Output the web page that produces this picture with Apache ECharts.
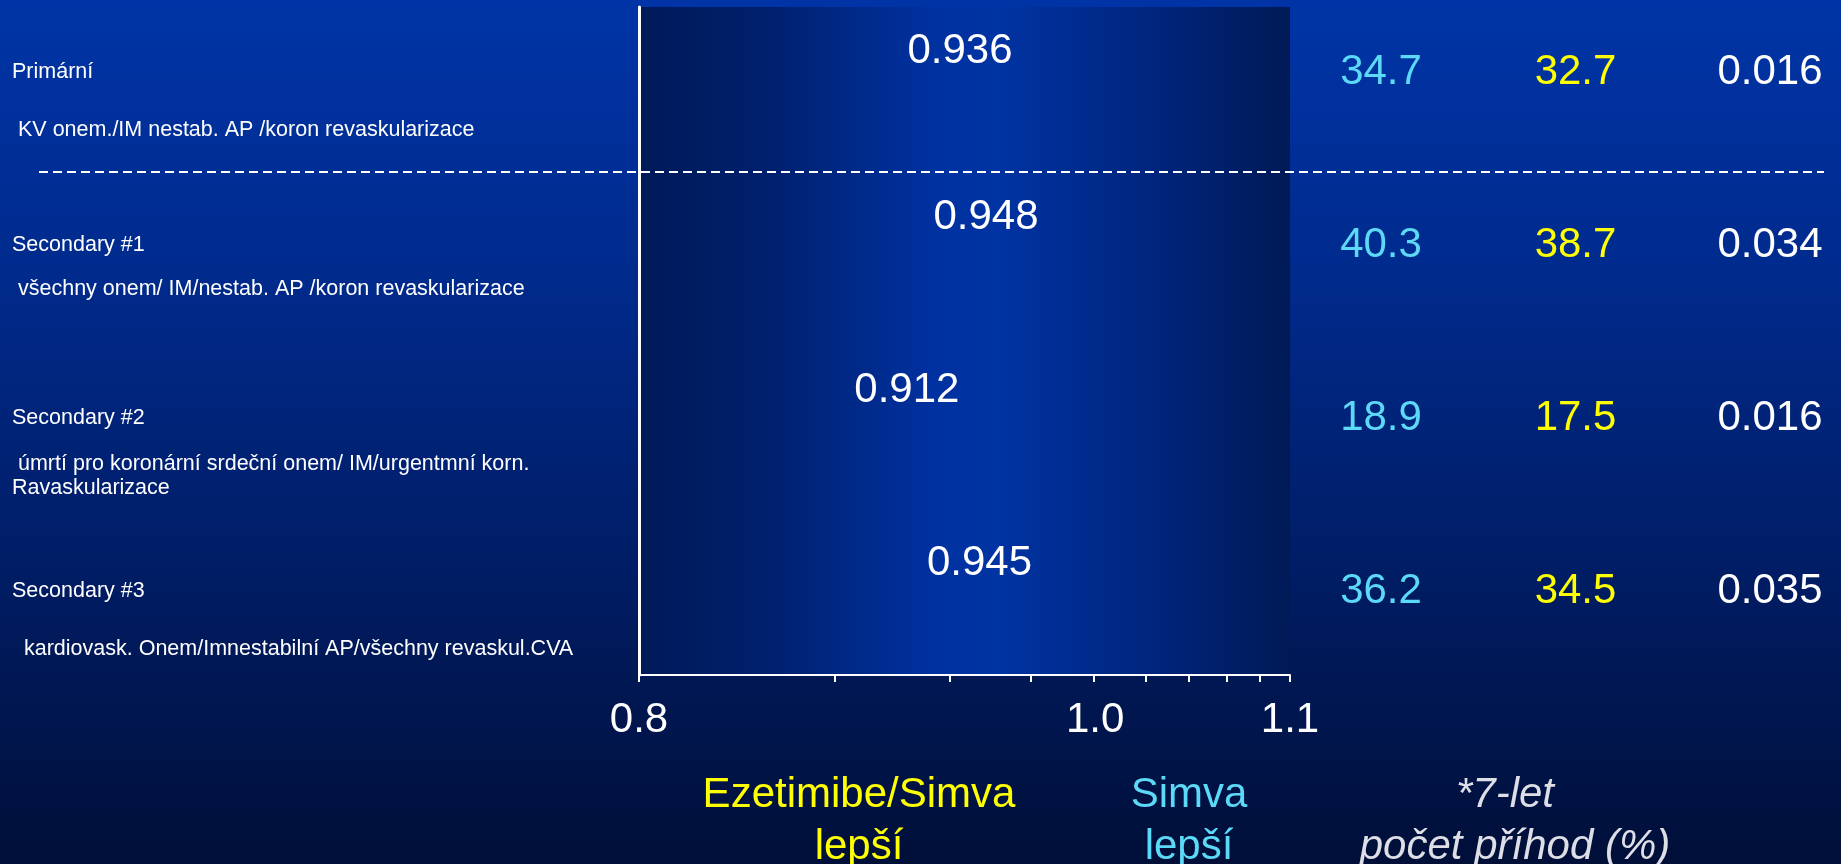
<!DOCTYPE html>
<html>
<head>
<meta charset="utf-8">
<script src="https://cdn.jsdelivr.net/npm/echarts@6/dist/echarts.min.js"></script>
<style>
  html, body { margin: 0; padding: 0; background: #001a60; }
  #chart { width: 1841px; height: 864px; }
</style>
</head>
<body>
<div id="chart"></div>
<script>
// Endpoints (rows, top to bottom)
const endpoints = ['Primární', 'Secondary #1', 'Secondary #2', 'Secondary #3'];
const endpointNotes = [
  ' KV onem./IM nestab. AP /koron revaskularizace',
  ' všechny onem/ IM/nestab. AP /koron revaskularizace',
  ' úmrtí pro koronární srdeční onem/ IM/urgentmní korn.\nRavaskularizace',
  '  kardiovask. Onem/Imnestabilní AP/všechny revaskul.CVA'
];
// Hazard ratio per endpoint
const hazardRatios = [0.936, 0.948, 0.912, 0.945];
// 7-year event rates (%) and p-values
const simvaRates = [34.7, 40.3, 18.9, 36.2];
const ezeSimvaRates = [32.7, 38.7, 17.5, 34.5];
const pValues = [0.016, 0.034, 0.016, 0.035];
const tableColumns = ['Simva', 'Ezetimibe/Simva', 'p'];
// Axis labels and decade tick marks
const hrAxisLabels = [0.8, 1.0, 1.1];
const decadeTicks = [1, 2, 3, 4, 5, 6, 7, 8, 9, 10];

const FONT = '"Liberation Sans", Arial, Helvetica, sans-serif';
const CYAN = '#5bd9f7';
const YELLOW = '#ffff00';
const ROW_MIN = -0.376, ROW_MAX = 3.486;
// gap between each hazard-ratio label and its row
const hrLabelGap = [0, 7, 7, 7];
// vertical offset of each caption note under its row title
const noteOffsets = [58, 44, 58, 58];

const chart = echarts.init(document.getElementById('chart'));

const panelGradient = {
  type: 'linear', x: 0, y: 0, x2: 1, y2: 0,
  colorStops: [
    { offset: 0, color: '#001a58' },
    { offset: 0.2, color: '#00206e' },
    { offset: 0.45, color: '#0031a0' },
    { offset: 0.55, color: '#0033a3' },
    { offset: 0.82, color: '#002378' },
    { offset: 1, color: '#001a56' }
  ]
};

const rowIdx = endpoints.map((_, i) => i);

function tableSeries(values, col, color, digits) {
  return {
    type: 'scatter', xAxisIndex: 2, yAxisIndex: 1, symbolSize: 0, clip: false,
    itemStyle: { opacity: 1 },
    data: values.map((v, i) => [tableColumns[col], i, v]),
    label: {
      show: true, position: 'inside', color: color, fontSize: 42, fontFamily: FONT,
      formatter: p => p.value[2].toFixed(digits)
    }
  };
}

chart.setOption({
  animation: false,
  backgroundColor: {
    type: 'linear', x: 0, y: 0, x2: 0, y2: 1,
    colorStops: [
      { offset: 0, color: '#0034a6' },
      { offset: 0.3, color: '#002b8e' },
      { offset: 0.65, color: '#001d66' },
      { offset: 1, color: '#000f38' }
    ]
  },
  textStyle: { fontFamily: FONT },
  grid: [
    { left: 639, right: 551, top: 7, bottom: 189, show: true, borderWidth: 0, backgroundColor: panelGradient },
    { left: 1381, right: 71, top: 7, bottom: 189 }
  ],
  xAxis: [
    {
      type: 'log', gridIndex: 0, min: 0.8, max: 1.1, position: 'bottom',
      axisLine: { onZero: false, lineStyle: { color: '#ffffff', width: 2 } },
      axisTick: { show: false },
      splitLine: { show: false },
      axisLabel: {
        customValues: hrAxisLabels, color: '#ffffff', fontSize: 42, margin: 24,
        formatter: v => Number(v).toFixed(1)
      }
    },
    {
      type: 'log', logBase: 10, gridIndex: 0, min: 1, max: 10, position: 'bottom',
      axisLine: { show: false, onZero: false },
      axisLabel: { show: false },
      splitLine: { show: false },
      axisTick: { show: true, customValues: decadeTicks, length: 7, lineStyle: { color: '#ffffff', width: 2 } }
    },
    { type: 'category', gridIndex: 1, data: tableColumns, boundaryGap: false, show: false }
  ],
  yAxis: [
    {
      type: 'value', gridIndex: 0, inverse: true, min: ROW_MIN, max: ROW_MAX,
      axisLine: { show: true, onZero: false, lineStyle: { color: '#ffffff', width: 3 } },
      axisTick: { show: false }, axisLabel: { show: false }, splitLine: { show: false }
    },
    { type: 'value', gridIndex: 1, inverse: true, min: ROW_MIN, max: ROW_MAX, show: false }
  ],
  series: [
    {
      type: 'scatter', xAxisIndex: 0, yAxisIndex: 0, symbolSize: 0, clip: false,
      itemStyle: { opacity: 1 },
      data: hazardRatios.map((v, i) => ({ value: [v, i], label: { distance: hrLabelGap[i] } })),
      label: {
        show: true, position: 'top', color: '#ffffff', fontSize: 42, fontFamily: FONT,
        formatter: p => p.value[0].toFixed(3)
      }
    },
    tableSeries(simvaRates, 0, CYAN, 1),
    tableSeries(ezeSimvaRates, 1, YELLOW, 1),
    tableSeries(pValues, 2, '#ffffff', 3)
  ]
});

// Row captions on the left, placed against the row positions of the y axis
const graphics = [];
rowIdx.forEach(i => {
  const y = chart.convertToPixel({ yAxisIndex: 0 }, i);
  graphics.push({
    type: 'text', z: 10,
    style: { text: endpoints[i], x: 12, y: y, fill: '#ffffff', fontSize: 21.5, fontFamily: FONT, verticalAlign: 'middle' }
  });
  graphics.push({
    type: 'text', z: 10,
    style: { text: endpointNotes[i], x: 12, y: y + noteOffsets[i], fill: '#ffffff', fontSize: 21.5, lineHeight: 24, fontFamily: FONT, verticalAlign: 'middle' }
  });
});

// Separator between the primary and secondary endpoints
graphics.push({
  type: 'line', z: 20,
  shape: { x1: 39, y1: 172, x2: 1824, y2: 172 },
  style: { stroke: '#ffffff', lineWidth: 2, lineDash: [9, 5] }
});

// Captions under the axis
function caption(text, x, y, color, italic) {
  return {
    type: 'text', z: 10,
    style: {
      text: text, x: x, y: y, align: 'center', verticalAlign: 'middle',
      fontSize: 42, fontFamily: FONT, fontStyle: italic ? 'italic' : 'normal', fill: color
    }
  };
}
graphics.push(caption('Ezetimibe/Simva', 859, 795, YELLOW));
graphics.push(caption('lepší', 859, 847, YELLOW));
graphics.push(caption('Simva', 1189, 795, CYAN));
graphics.push(caption('lepší', 1189, 847, CYAN));
graphics.push(caption('*7-let', 1505, 795, '#dedee6', true));
graphics.push(caption('počet příhod (%)', 1515, 847, '#dedee6', true));

chart.setOption({ graphic: graphics });
</script>
</body>
</html>
